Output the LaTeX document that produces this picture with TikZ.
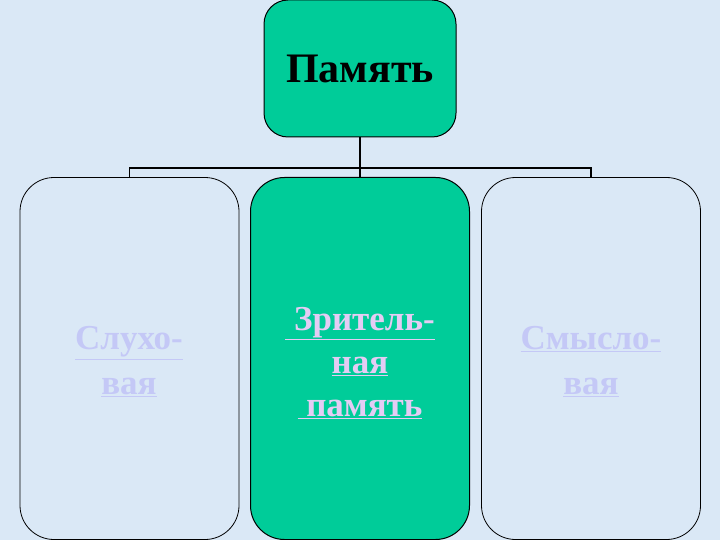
\documentclass[tikz,border=0pt]{standalone}
\usepackage{fontspec}
\setmainfont{Liberation Serif}
\definecolor{bgblue}{RGB}{218,232,246}
\definecolor{teal}{RGB}{0,204,153}
\definecolor{paletxt}{RGB}{196,200,246}
\definecolor{pinktxt}{RGB}{228,204,244}
\tikzset{
  topbox/.style={draw=black, line width=1pt, fill=teal, rounded corners=24pt,
    minimum width=192pt, minimum height=137pt, inner sep=0pt,
    font=\fontsize{42}{46}\selectfont\bfseries},
  sidebox/.style={draw=black, line width=0.8pt, rounded corners=34pt,
    minimum width=219pt, minimum height=362pt, inner sep=0pt},
  midbox/.style={sidebox, fill=teal, line width=1pt},
  sidetext/.style={align=center, text=paletxt, inner sep=0pt,
    font=\fontsize{35}{45}\selectfont\bfseries},
  midtext/.style={sidetext, text=pinktxt, font=\fontsize{35}{43}\selectfont\bfseries},
  conn/.style={draw=black, line width=1.8pt}
}
\begin{document}
\begin{tikzpicture}[x=1pt,y=-1pt]
\useasboundingbox (0,0) rectangle (720,540);
\fill[bgblue] (0,0) rectangle (720,540);
\node[topbox] (top) at (360,68.5) {Память};
\node[sidebox] (left) at (129.5,358.5) {};
\node[midbox] (mid) at (360,358.5) {};
\node[sidebox] (right) at (591,358.5) {};
\node[sidetext] (lefttext) at (129,362) {\underline{Слухо-}\\\underline{вая}};
\node[midtext] (midtext) at (360,363) {\underline{~Зритель-}\\\underline{ная}\\\underline{~память}};
\node[sidetext] (righttext) at (591,362) {\underline{Смысло-}\\\underline{вая}};
\draw[conn] (top.south) -- (mid.north);
\draw[conn] (left.north) -- ++(0,-9) coordinate (lj) -| (right.north);
\end{tikzpicture}
\end{document}
